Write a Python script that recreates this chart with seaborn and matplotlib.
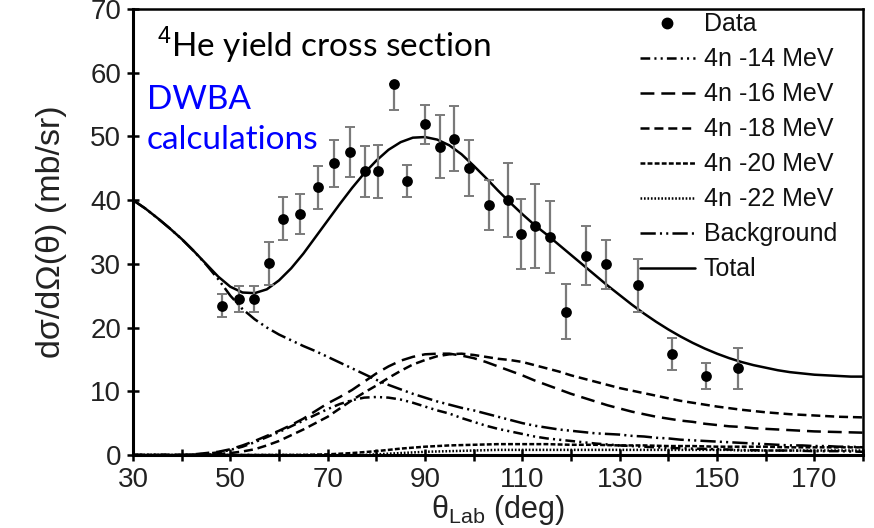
import numpy as np
import pandas as pd
import matplotlib
matplotlib.use("Agg")
import matplotlib.pyplot as plt
import seaborn as sns
from matplotlib.lines import Line2D

# ---------------- data ----------------
theta_data = [48.3, 51.7, 54.8, 57.9, 60.9, 64.3, 68.0, 71.3, 74.6, 77.7, 80.3, 83.7, 86.3,
              90.0, 93.0, 96.0, 99.0, 103.1, 107.0, 109.7, 112.7, 115.6, 118.9, 123.1,
              127.1, 133.7, 140.8, 147.8, 154.4]
yield_data = [23.4, 24.5, 24.5, 30.1, 37.1, 37.8, 42.0, 45.8, 47.6, 44.5, 44.5, 58.3, 43.0,
              51.9, 48.4, 49.6, 45.1, 39.2, 40.0, 34.7, 36.0, 34.2, 22.5, 31.3,
              29.9, 26.6, 15.9, 12.4, 13.6]
err_low = [1.8, 2.0, 2.0, 3.4, 3.4, 3.1, 3.4, 3.7, 3.9, 4.0, 4.1, 4.2, 2.5,
           3.1, 5.0, 5.1, 4.4, 3.9, 5.8, 5.5, 6.6, 5.7, 4.3, 4.7,
           3.9, 4.2, 2.5, 2.1, 3.2]
err_high = [1.8, 2.0, 2.0, 3.4, 3.4, 3.1, 3.4, 3.7, 3.9, 4.0, 4.1, 0.0, 2.5,
            3.1, 5.0, 5.1, 4.4, 3.9, 5.8, 5.5, 6.6, 5.7, 4.3, 4.7,
            3.9, 4.2, 2.5, 2.1, 3.2]

theta_grid = [30, 32.5, 35, 37.5, 40, 42.5, 45, 47.5, 50, 52.5, 55, 57.5, 60, 62.5, 65, 67.5,
              70, 72.5, 75, 77.5, 80, 82.5, 85, 87.5, 90, 92.5, 95, 97.5, 100, 102.5, 105,
              107.5, 110, 112.5, 115, 117.5, 120, 122.5, 125, 127.5, 130, 132.5, 135, 137.5,
              140, 142.5, 145, 147.5, 150, 152.5, 155, 157.5, 160, 162.5, 165, 167.5, 170,
              172.5, 175, 177.5, 180]
curve_14 = [0, 0, 0, 0, 0, 0.05, 0.2, 0.4, 0.8, 1.3, 2.0, 2.8, 3.6, 4.5, 5.4, 6.3,
            7.2, 8.0, 8.6, 9.0, 9.1, 9.0, 8.7, 8.2, 7.6, 7.0, 6.5, 5.8, 5.2, 4.6, 4.1,
            3.7, 3.3, 2.9, 2.6, 2.4, 2.2, 2.0, 1.8, 1.65, 1.5, 1.4, 1.3, 1.2,
            1.1, 1.05, 1.0, 0.95, 0.9, 0.85, 0.8, 0.75, 0.7, 0.7, 0.7, 0.65, 0.6,
            0.6, 0.6, 0.55, 0.5]
curve_16 = [0, 0, 0, 0, 0, 0.1, 0.3, 0.5, 0.9, 1.5, 2.2, 3.0, 3.8, 4.7, 5.7, 6.9,
            8.1, 9.1, 10.2, 11.5, 12.8, 13.9, 14.8, 15.4, 15.8, 15.9, 15.9, 15.6, 15.2, 14.6, 13.9,
            13.2, 12.5, 11.7, 11.0, 10.3, 9.6, 9.0, 8.4, 7.8, 7.3, 6.8, 6.4, 6.0,
            5.7, 5.4, 5.2, 4.9, 4.7, 4.5, 4.4, 4.2, 4.1, 4.0, 3.9, 3.8, 3.7,
            3.65, 3.6, 3.55, 3.5]
curve_18 = [0, 0, 0, 0, 0, 0, 0.05, 0.15, 0.3, 0.55, 0.9, 1.5, 2.2, 3.1, 4.0, 5.0,
            6.0, 7.3, 8.6, 9.8, 10.9, 12.1, 13.2, 14.2, 14.9, 15.5, 15.8, 15.9, 15.7, 15.4, 15.1,
            14.9, 14.6, 14.1, 13.6, 13.1, 12.5, 12.0, 11.5, 11.0, 10.5, 10.1, 9.7, 9.3,
            8.9, 8.5, 8.2, 7.9, 7.6, 7.35, 7.1, 6.9, 6.7, 6.55, 6.4, 6.3, 6.2,
            6.1, 6.0, 5.95, 5.9]
curve_20 = [0, 0, 0, 0, 0, 0, 0, 0, 0, 0, 0, 0, 0, 0, 0, 0.05,
            0.1, 0.2, 0.3, 0.45, 0.6, 0.8, 1.0, 1.15, 1.3, 1.4, 1.5, 1.55, 1.6, 1.65, 1.7,
            1.7, 1.7, 1.7, 1.7, 1.65, 1.6, 1.6, 1.6, 1.55, 1.5, 1.5, 1.5, 1.45,
            1.4, 1.4, 1.4, 1.35, 1.3, 1.3, 1.3, 1.3, 1.3, 1.25, 1.2, 1.2, 1.2,
            1.2, 1.2, 1.2, 1.2]
curve_22 = [0, 0, 0, 0, 0, 0, 0, 0, 0, 0, 0, 0, 0, 0, 0, 0,
            0, 0, 0, 0, 0.1, 0.2, 0.3, 0.4, 0.5, 0.55, 0.6, 0.65, 0.7, 0.75, 0.8,
            0.8, 0.8, 0.8, 0.8, 0.8, 0.8, 0.8, 0.8, 0.8, 0.8, 0.8, 0.8, 0.8,
            0.8, 0.8, 0.8, 0.8, 0.8, 0.8, 0.7, 0.7, 0.7, 0.7, 0.7, 0.7, 0.7,
            0.7, 0.7, 0.7, 0.7]
background = [40.0, 38.7, 37.2, 35.6, 33.9, 32.0, 29.9, 27.6, 25.0, 22.9, 21.3, 20.0, 18.9,
              18.0, 17.1, 16.3, 15.4, 14.5, 13.6, 12.7, 11.8, 11.0, 10.3, 9.6, 9.0, 8.4,
              7.9, 7.4, 7.0, 6.5, 6.0, 5.5, 5.0, 4.6, 4.3, 4.0, 3.8, 3.6, 3.4, 3.3, 3.2,
              3.0, 2.9, 2.7, 2.6, 2.4, 2.3, 2.2, 2.1, 2.0, 1.9, 1.8, 1.7, 1.6, 1.5, 1.5,
              1.4, 1.4, 1.3, 1.3, 1.2]
total = [40.0, 38.7, 37.2, 35.6, 33.9, 32.0, 30.0, 28.0, 26.4, 25.5, 25.4, 26.0, 27.4,
         29.3, 31.6, 34.2, 36.8, 39.4, 41.9, 44.2, 46.2, 47.9, 49.1, 49.8, 49.9, 49.5,
         48.6, 47.2, 45.4, 43.5, 41.5, 39.6, 37.8, 36.1, 34.6, 33.0, 31.4, 29.8, 28.2,
         26.6, 25.1, 23.6, 22.2, 20.9, 19.7, 18.6, 17.6, 16.7, 15.9, 15.2, 14.6, 14.1,
         13.7, 13.3, 13.0, 12.8, 12.6, 12.5, 12.4, 12.3, 12.3]

curve_names = ["4n -14 MeV", "4n -16 MeV", "4n -18 MeV", "4n -20 MeV", "4n -22 MeV",
               "Background", "Total"]
curve_values = [curve_14, curve_16, curve_18, curve_20, curve_22, background, total]

x_ticks = [30, 40, 50, 60, 70, 80, 90, 100, 110, 120, 130, 140, 150, 160, 170, 180]
x_ticklabels = ["30", "", "50", "", "70", "", "90", "", "110", "", "130", "", "150", "",
                "170", ""]
y_ticks = [0, 10, 20, 30, 40, 50, 60, 70]

# ---------------- styling ----------------
styles = {
    "4n -14 MeV": (0, (7, 3, 1.5, 3, 1.5, 3)),
    "4n -16 MeV": (0, (10, 5)),
    "4n -18 MeV": (0, (6.5, 3.5)),
    "4n -20 MeV": (0, (3.5, 1.6)),
    "4n -22 MeV": (0, (1.2, 1.3)),
    "Background": (0, (11, 3, 1.5, 3, 1.5, 3)),
    "Total": "-",
}

sns.set_theme(style="white")
plt.rcParams['font.family'] = ['Liberation Sans', 'DejaVu Sans']
plt.rcParams['lines.scale_dashes'] = False
plt.rcParams['mathtext.fontset'] = 'custom'
plt.rcParams['mathtext.rm'] = 'Liberation Sans'

fig = plt.figure(figsize=(8.74, 5.28), dpi=100)
ax = fig.add_axes([0.1522, 0.1383, 0.8352, 0.8447])

for name, vals in zip(curve_names, curve_values):
    sns.lineplot(x=theta_grid, y=vals, ax=ax, color="black", linewidth=1.8,
                 linestyle=styles[name], legend=False)

ax.errorbar(theta_data, yield_data, yerr=[err_low, err_high], fmt="none",
            ecolor="#7a7a7a", elinewidth=1.6, capsize=3.6, capthick=1.4, zorder=3)
sns.scatterplot(x=theta_data, y=yield_data, ax=ax, color="black", s=60,
                edgecolor="black", linewidth=0, zorder=4, legend=False)

ax.set_xlim(30, 180)
ax.set_ylim(0, 70)
ax.set_xticks(x_ticks)
ax.set_xticklabels(x_ticklabels)
ax.set_yticks(y_ticks)
ax.tick_params(axis="both", direction="inout", length=9, width=1.8, labelsize=20,
               color="black", labelcolor="#222222", bottom=True, left=True, pad=4)

for side in ["left", "bottom"]:
    ax.spines[side].set_linewidth(2.2)
    ax.spines[side].set_color("black")
for side in ["top", "right"]:
    ax.spines[side].set_linewidth(1.8)
    ax.spines[side].set_color("black")

ax.set_ylabel("dσ/dΩ(θ) (mb/sr)", fontsize=24.5, color="#222222", labelpad=17)
ax.set_xlabel("θ$_{\\mathregular{Lab}}$ (deg)", fontsize=22, color="#222222", labelpad=0)

# legend
handles = [Line2D([], [], marker="o", color="black", linestyle="none", markersize=7.5)]
labels = ["Data"]
for name in curve_names:
    handles.append(Line2D([], [], color="black", linewidth=1.8, linestyle=styles[name]))
    labels.append(name)
ax.legend(handles, labels, loc="upper right", bbox_to_anchor=(0.975, 1.009), frameon=False,
          fontsize=18, handlelength=2.2, handletextpad=0.36, labelspacing=0.44,
          borderaxespad=0.0, borderpad=0.3, labelcolor="#111111")

# annotations
ax.text(35.0, 62.4, "$^{4}$He yield cross section", fontsize=24, color="black",
        family=["Lato", "DejaVu Sans"], va="baseline", ha="left")
ax.text(32.8, 54.3, "DWBA", fontsize=24, color="#0000ff",
        family=["Lato", "DejaVu Sans"], va="baseline", ha="left")
ax.text(32.8, 48.0, "calculations", fontsize=24, color="#0000ff",
        family=["Lato", "DejaVu Sans"], va="baseline", ha="left")

fig.savefig("out.png", dpi=100)
